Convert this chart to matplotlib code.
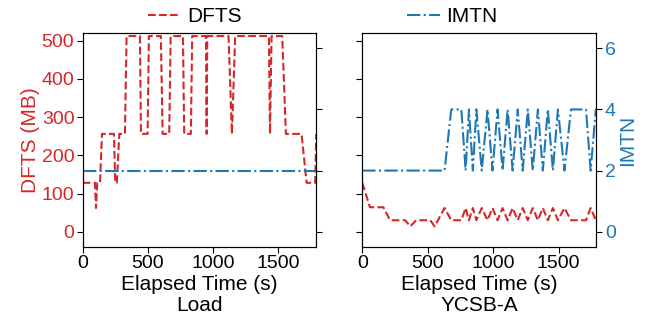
import matplotlib
matplotlib.use('Agg')
import matplotlib.pyplot as plt

plt.rcParams['font.family'] = ['Liberation Sans', 'DejaVu Sans']
plt.rcParams['font.size'] = 14

RED = '#d62728'
BLUE = '#1f77b4'

# Load phase: DFTS (MB) breakpoints
load_time = [0, 94, 102, 112, 133, 148, 240, 250, 262, 281, 324, 337, 439, 447,
             498, 508, 600, 613, 664, 675, 769, 779, 830, 840, 946, 951, 956,
             1119, 1145, 1170, 1429, 1437, 1449, 1531, 1559, 1679, 1718, 1784, 1792]
load_dfts = [128, 128, 62, 128, 128, 256, 256, 128, 128, 256, 256, 512, 512, 256,
             256, 512, 512, 256, 256, 512, 512, 256, 256, 512, 512, 256, 512,
             512, 256, 512, 512, 256, 512, 512, 256, 256, 128, 128, 256]
load_imtn_time = [0, 1800]
load_imtn = [2, 2]

# YCSB-A phase
ycsb_time = [0, 59, 161, 213, 328, 367, 412, 520, 553, 629, 680, 757, 790, 815,
             845, 872, 913, 957, 995, 1034, 1072, 1111, 1149, 1188, 1226, 1265,
             1303, 1342, 1380, 1418, 1457, 1495, 1545, 1595, 1710, 1745, 1785, 1800]
ycsb_dfts = [128, 64, 64, 30, 30, 14, 30, 30, 14, 62, 30, 30, 62, 30,
             62, 30, 62, 30, 62, 30, 62, 30, 62, 30, 62, 30,
             62, 30, 62, 30, 62, 30, 62, 30, 30, 62, 30, 30]
ycsb_imtn = [2, 2, 2, 2, 2, 2, 2, 2, 2, 2, 4, 4, 2, 4,
             2, 4, 2, 4, 2, 4, 2, 4, 2, 4, 2, 4,
             2, 4, 2, 4, 2, 4, 2, 4, 4, 2, 4, 4]
# IMTN stays at 2 until ~630 s, so drop the early duplicate points
ycsb_imtn_time = [0, 629] + ycsb_time[10:]
ycsb_imtn_vals = [2, 2] + ycsb_imtn[10:]

titles = ['Load', 'YCSB-A']
XMAX = 1790
LABEL_SIZE = 15

fig = plt.figure(figsize=(6.49, 3.23), dpi=100)
ax1 = fig.add_axes([0.1274, 0.2353, 0.3595, 0.6625])
ax2 = fig.add_axes([0.5582, 0.2353, 0.3609, 0.6625], sharey=ax1)
ax1b = ax1.twinx()
ax2b = ax2.twinx()
ax2b.sharey(ax1b)

ax1.plot(load_time, load_dfts, color=RED, ls='--', lw=1.5, label='DFTS')
ax1b.plot(load_imtn_time, load_imtn, color=BLUE, ls='-.', lw=1.5, label='IMTN')
ax2.plot(ycsb_time, ycsb_dfts, color=RED, ls='--', lw=1.5)
ax2b.plot(ycsb_imtn_time, ycsb_imtn_vals, color=BLUE, ls='-.', lw=1.5)

ax1.set_ylim(-40, 520)
ax1b.set_ylim(-0.5, 6.5)
ax1.set_yticks([0, 100, 200, 300, 400, 500])
ax1b.set_yticks([0, 2, 4, 6])

for ax, t in zip([ax1, ax2], titles):
    ax.set_xlim(0, XMAX)
    ax.set_xticks([0, 500, 1000, 1500])
    ax.set_xlabel('Elapsed Time (s)\n' + t, fontsize=LABEL_SIZE,
                  linespacing=1.15, labelpad=2)

ax1.set_ylabel('DFTS (MB)', color=RED, fontsize=LABEL_SIZE, labelpad=1)
ax1.tick_params(axis='y', labelcolor=RED)
ax2.tick_params(axis='y', labelleft=False)
ax1b.tick_params(axis='y', labelright=False)
ax2b.set_ylabel('IMTN', color=BLUE, fontsize=LABEL_SIZE, labelpad=2)
ax2b.tick_params(axis='y', labelcolor=BLUE)

for ax in [ax1, ax2, ax1b, ax2b]:
    ax.tick_params(length=4, pad=2)

h1, l1 = ax1.get_legend_handles_labels()
h2, l2 = ax1b.get_legend_handles_labels()
fig.legend(h1 + h2, l1 + l2, loc='upper center', bbox_to_anchor=(0.497, 1.035),
           ncol=2, frameon=False, fontsize=LABEL_SIZE, handlelength=1.6,
           handletextpad=0.3, columnspacing=7.9)

fig.savefig('out.png', dpi=100)
